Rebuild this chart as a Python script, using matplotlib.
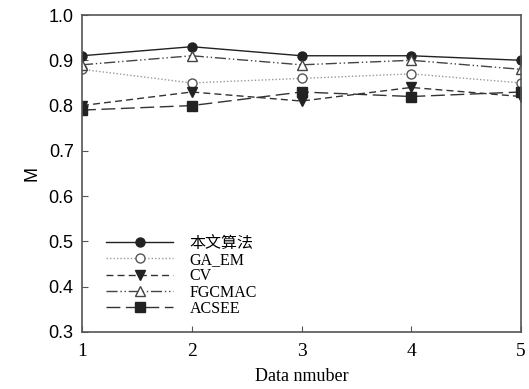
import matplotlib
matplotlib.use("Agg")
import matplotlib.pyplot as plt

x = [1, 2, 3, 4, 5]
ours = [0.91, 0.93, 0.91, 0.91, 0.90]
ga_em = [0.88, 0.85, 0.86, 0.87, 0.85]
cv = [0.80, 0.83, 0.81, 0.84, 0.82]
fgcmac = [0.89, 0.91, 0.89, 0.90, 0.88]
acsee = [0.79, 0.80, 0.83, 0.82, 0.83]
labels = ["本文算法", "GA_EM", "CV", "FGCMAC", "ACSEE"]
yticks = [0.3, 0.4, 0.5, 0.6, 0.7, 0.8, 0.9, 1.0]

serif = ["Liberation Serif", "Noto Sans CJK SC"]
sans = ["Liberation Sans", "DejaVu Sans"]

fig = plt.figure(figsize=(5.29, 3.89), dpi=100)
ax = fig.add_axes([82/529, 1-332/389, (521-82)/529, (332-15)/389])
c = "#222222"
ms = 6.5
ax.plot(x, ours, color=c, lw=1.0, ls="-", marker="o", ms=ms, mfc=c, mec=c, label=labels[0])
ax.plot(x, ga_em, color="#999999", lw=1.0, ls=(0, (1, 1.5)), marker="o", ms=ms, mfc="white", mec="#555555", label=labels[1])
ax.plot(x, cv, color="#333333", lw=1.0, ls=(0, (5, 3)), marker="v", ms=ms, mfc=c, mec=c, label=labels[2])
ax.plot(x, fgcmac, color="#444444", lw=1.0, ls=(0, (8, 2, 1, 2, 1, 2)), marker="^", ms=ms, mfc="white", mec="#444444", label=labels[3])
ax.plot(x, acsee, color="#333333", lw=1.0, ls=(0, (10, 4)), marker="s", ms=ms, mfc=c, mec=c, label=labels[4])

ax.set_xlim(1, 5)
ax.set_ylim(0.3, 1.0)
ax.set_xticks(x)
ax.set_yticks(yticks)
ax.set_yticklabels([f"{v:.1f}" for v in yticks], family=sans, fontsize=13)
ax.set_xticklabels([str(v) for v in x], family=serif, fontsize=14)
ax.tick_params(direction="in", length=4, color="#555555", pad=6)
ax.tick_params(axis="x", pad=8)
for s in ax.spines.values():
    s.set_color("#555555")
    s.set_linewidth(1.2)
ax.set_xlabel("Data nmuber", family=serif, fontsize=13, labelpad=6)
ax.set_ylabel("M", family=sans, fontsize=13, labelpad=6)
leg = ax.legend(loc="lower left", bbox_to_anchor=(0.03, 0.012), frameon=False,
                prop={"family": serif, "size": 11.5}, handlelength=4.2,
                labelspacing=0.02, borderpad=0.2, handletextpad=1.0)
fig.savefig("out.png", dpi=100)
